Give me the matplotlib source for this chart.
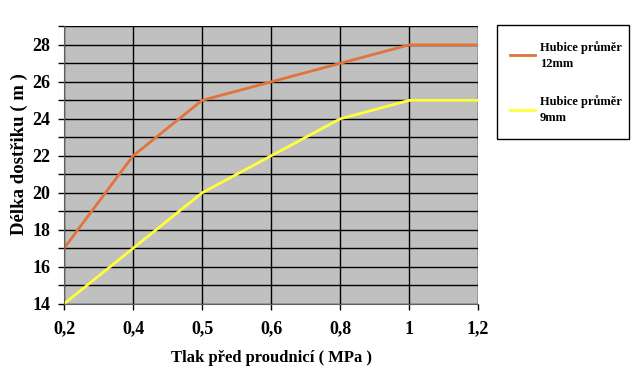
import matplotlib
matplotlib.use("Agg")
import matplotlib.pyplot as plt
from matplotlib.ticker import MultipleLocator
from matplotlib.patches import Rectangle

# data
tlak = ["0,2", "0,4", "0,5", "0,6", "0,8", "1", "1,2"]
hubice_12 = [17, 22, 25, 26, 27, 28, 28]
hubice_9 = [14, 17, 20, 22, 24, 25, 25]
nazvy = ["Hubice průměr\n12mm", "Hubice průměr\n9mm"]

plt.rcParams['font.family'] = ['Liberation Serif', 'DejaVu Serif']
plt.rcParams['font.weight'] = 'bold'

fig = plt.figure(figsize=(6.4, 3.77), dpi=100)
ax = fig.add_axes([0.1, 0.194, 0.647, 0.736])
ax.set_facecolor('#c0c0c0')

x = list(range(len(tlak)))
l1, = ax.plot(x, hubice_12, color='#e2733a', lw=2)
l2, = ax.plot(x, hubice_9, color='#ffff3c', lw=2)

ax.set_xlim(0, len(tlak) - 1)
ax.set_ylim(14, 29)
ax.set_xticks(x)
ax.set_xticklabels(tlak, fontsize=13, fontweight='bold')
ax.yaxis.set_minor_locator(MultipleLocator(1))
ax.set_yticks(range(14, 29, 2))
ax.set_yticklabels([str(v) for v in range(14, 29, 2)], fontsize=13, fontweight='bold')
ax.tick_params(axis='both', which='both', length=4, width=1, color='black')
ax.tick_params(axis='y', pad=6)
ax.tick_params(axis='x', pad=8)

ax.grid(True, which='both', color='black', lw=1)
ax.set_axisbelow(True)
for s in ['top', 'right']:
    ax.spines[s].set_visible(False)
ax.spines['left'].set_color('#606060')
ax.spines['bottom'].set_color('#606060')

ax.set_xlabel("Tlak před proudnicí ( MPa )", fontsize=12, fontweight='bold', labelpad=9)
ax.set_ylabel("Délka dostřiku ( m )", fontsize=13.5, fontweight='bold')
ax.yaxis.set_label_coords(-0.087, 0.54)

# legend box drawn separately so the padding matches
fig.patches.append(Rectangle((497 / 640, 1 - 139 / 377), 132 / 640, 114 / 377,
                             transform=fig.transFigure, fill=False,
                             edgecolor='black', lw=1))
leg = fig.legend([l1, l2], nazvy, loc='upper left', bbox_to_anchor=(0.797, 0.891),
                 fontsize=9, frameon=False, handlelength=2.0, labelspacing=2.05,
                 borderpad=0, handletextpad=0.4, borderaxespad=0)
for t in leg.get_texts():
    t.set_fontweight('bold')
    t.set_linespacing(1.4)

fig.savefig("out.png", dpi=100)
